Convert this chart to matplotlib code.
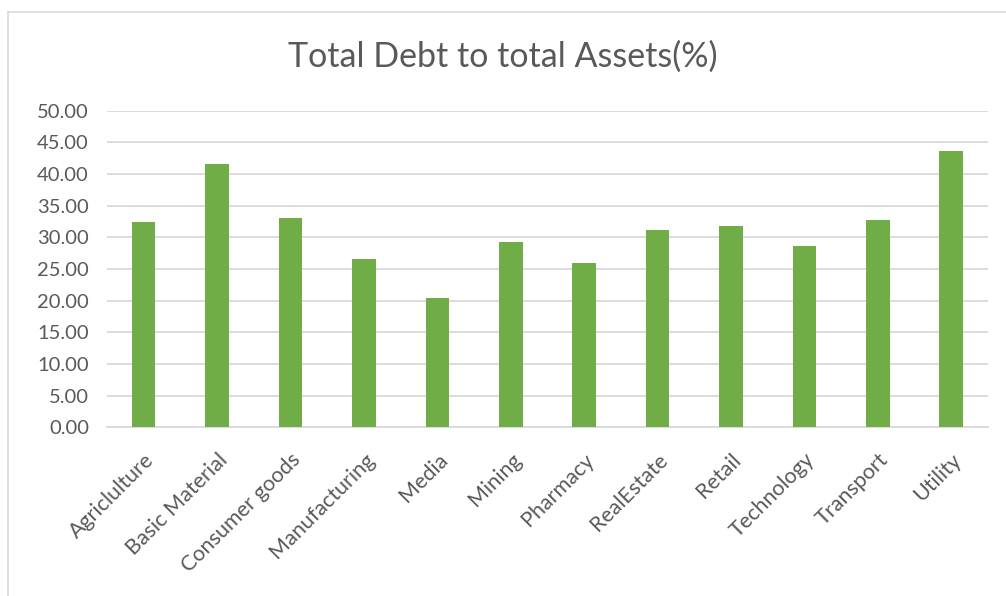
import matplotlib
matplotlib.use("Agg")
import matplotlib.pyplot as plt
from matplotlib.lines import Line2D

categories = ["Agriclulture", "Basic Material", "Consumer goods", "Manufacturing", "Media",
              "Mining", "Pharmacy", "RealEstate", "Retail", "Technology", "Transport", "Utility"]
values = [32.4, 41.6, 33.0, 26.6, 20.4, 29.2, 25.9, 31.1, 31.8, 28.7, 32.7, 43.6]
yticks = [0, 5, 10, 15, 20, 25, 30, 35, 40, 45, 50]

BAR = "#70AD47"
TXT = "#595959"
GRID = "#D9D9D9"
FONT = ["Lato", "DejaVu Sans"]

fig = plt.figure(figsize=(10.06, 5.96), dpi=100)
ax = fig.add_axes([0.1064, 0.283, 0.8756, 0.5313])

x = range(len(categories))
ax.bar(x, values, width=0.32, color=BAR, zorder=3)

ax.set_xlim(-0.5, len(categories) - 0.5)
ax.set_ylim(0, 50)
ax.set_yticks(yticks)
ax.set_yticklabels([f"{v:.2f}" for v in yticks], fontsize=14.5, color=TXT, family=FONT)
ax.set_xticks(list(x))
ax.set_xticklabels(categories, rotation=45, ha="right", rotation_mode="anchor",
                   fontsize=15.5, color=TXT, family=FONT)
ax.tick_params(axis="both", length=0)
ax.tick_params(axis="y", pad=13)
ax.tick_params(axis="x", pad=16)
ax.grid(axis="y", color=GRID, linewidth=1.3, zorder=0)
for s in ["top", "right", "left"]:
    ax.spines[s].set_visible(False)
ax.spines["bottom"].set_color(GRID)
ax.spines["bottom"].set_linewidth(1.3)

fig.text(0.5, 0.905, "Total Debt to total Assets(%)", ha="center", va="center",
         fontsize=24.5, color=TXT, family=FONT)

# chart area border (partially visible)
fig.add_artist(Line2D([8 / 1006, 1], [1 - 12 / 596, 1 - 12 / 596], color=GRID, lw=1.2,
                      transform=fig.transFigure))
fig.add_artist(Line2D([8 / 1006, 8 / 1006], [0, 1 - 12 / 596], color=GRID, lw=1.2,
                      transform=fig.transFigure))

fig.savefig("out.png", dpi=100)
